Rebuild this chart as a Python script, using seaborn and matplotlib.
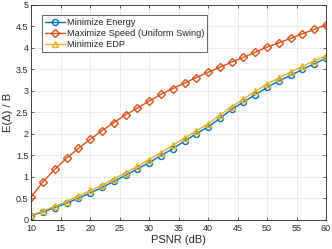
import numpy as np
import pandas as pd
import matplotlib
matplotlib.use("Agg")
import matplotlib.pyplot as plt
import seaborn as sns

psnr = list(range(10, 61, 2))
min_energy = [0.09, 0.18, 0.28, 0.38, 0.50, 0.62, 0.75, 0.89, 1.03, 1.18, 1.33, 1.49, 1.65,
              1.83, 2.00, 2.16, 2.36, 2.57, 2.74, 2.91, 3.08, 3.23, 3.36, 3.50, 3.63, 3.76]
max_speed = [0.53, 0.88, 1.17, 1.43, 1.66, 1.87, 2.07, 2.26, 2.44, 2.60, 2.76, 2.92, 3.05,
             3.18, 3.31, 3.43, 3.55, 3.67, 3.78, 3.90, 4.02, 4.12, 4.22, 4.33, 4.43, 4.54]
min_edp = [0.10, 0.20, 0.31, 0.42, 0.55, 0.68, 0.80, 0.95, 1.09, 1.24, 1.40, 1.56, 1.73,
           1.90, 2.07, 2.23, 2.44, 2.63, 2.81, 2.99, 3.16, 3.30, 3.44, 3.57, 3.70, 3.82]
labels = ["Minimize Energy", "Maximize Speed (Uniform Swing)", "Minimize EDP"]

df = pd.DataFrame({"psnr": psnr * 3,
                   "value": min_energy + max_speed + min_edp,
                   "series": [labels[0]] * 26 + [labels[1]] * 26 + [labels[2]] * 26})

sns.set_theme(style="whitegrid")
plt.rcParams['font.family'] = ['Liberation Sans', 'DejaVu Sans']

fig, ax = plt.subplots(figsize=(3.32, 2.49), dpi=100)
fig.subplots_adjust(left=0.094, right=0.982, top=0.98, bottom=0.118)

palette = {labels[0]: "#0072BD", labels[1]: "#D95319", labels[2]: "#EDB120"}
markers = {labels[0]: "o", labels[1]: "D", labels[2]: "^"}
sns.lineplot(data=df, x="psnr", y="value", hue="series", style="series",
             palette=palette, markers=markers, dashes=False, ax=ax,
             markersize=4.3, markerfacecolor="none", markeredgewidth=1.0, linewidth=1.0)
# seaborn colours the marker edges itself, so set them again per line
for line, lab in zip(ax.get_lines()[:3], labels):
    line.set_markeredgecolor(palette[lab])
    line.set_markerfacecolor("none")
    if lab == labels[1]:
        line.set_markersize(3.8)

ax.set_xlim(10, 60)
ax.set_ylim(0, 5)
ax.set_xticks(range(10, 61, 5))
ax.set_yticks(np.arange(0, 5.01, 0.5))
ax.set_yticklabels(["0", "0.5", "1", "1.5", "2", "2.5", "3", "3.5", "4", "4.5", "5"])
ax.set_xlabel("PSNR (dB)", fontsize=8, labelpad=1)
ax.set_ylabel("E(Δ) / B", fontsize=8, labelpad=2)
ax.tick_params(labelsize=6.5, direction="in", length=2.5, width=0.5, pad=2,
               top=True, right=True, bottom=True, left=True, colors="#262626")
ax.tick_params(axis="x", pad=3.5)
ax.grid(True, color="#e3e3e3", linewidth=0.5)
for s in ax.spines.values():
    s.set_color("#262626")
    s.set_linewidth(0.6)

handles, _ = ax.get_legend_handles_labels()
for h, lab in zip(handles, labels):
    h.set_markerfacecolor("none")
    h.set_markeredgecolor(palette[lab])
leg = ax.legend(handles, labels, loc="upper left", fontsize=6.7, frameon=True,
                fancybox=False, edgecolor="#262626", framealpha=1,
                borderpad=0.3, handlelength=2.2, handletextpad=0.2, labelspacing=0.25,
                bbox_to_anchor=(0.02, 0.975))
leg.get_frame().set_linewidth(0.5)

plt.savefig("out.png", dpi=100)
